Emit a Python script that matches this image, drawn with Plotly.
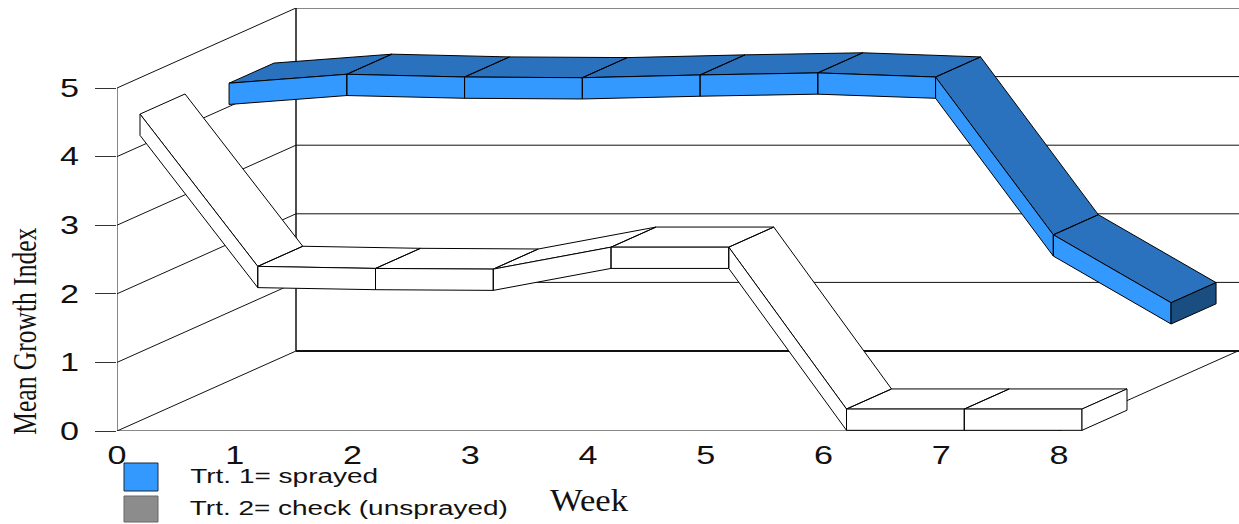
import json
import plotly.graph_objects as go

# Data: mean growth index at the upper edge of each ribbon
weeks = [0, 1, 2, 3, 4, 5, 6, 7, 8]
sprayed = [4.34, 4.47, 4.43, 4.42, 4.46, 4.49, 4.43, 2.13, 1.14]
check = [4.47, 2.25, 2.22, 2.21, 2.53, 2.53, 0.17, 0.17, 0.17]
y_ticks = [0, 1, 2, 3, 4, 5]
series_names = ["Trt. 1= sprayed", "Trt. 2= check (unsprayed)"]

# Oblique projection: how far one full chart depth shifts a point, in axis units
X_UNIT, Y_UNIT = 117.75, 68.6
DEPTH_X = 179 / X_UNIT
DEPTH_Y = 80 / Y_UNIT
RIBBON_DEPTH = 0.2514
RIBBON_THICK = 0.31
X_MAX = (1239 - 117) / X_UNIT
Y_MAX = 423 / Y_UNIT

BLUE_FRONT, BLUE_TOP, BLUE_END = "#3399ff", "#2a72bd", "#1a4d80"


def project(week, value, depth):
    return week + depth * DEPTH_X, value + depth * DEPTH_Y


def polygons(quads):
    xs, ys = [], []
    for quad in quads:
        pts = [project(*p) for p in quad]
        pts.append(pts[0])
        xs += [p[0] for p in pts] + [None]
        ys += [p[1] for p in pts] + [None]
    return xs, ys


def ribbon_faces(values, depth):
    back = depth + RIBBON_DEPTH
    tops, fronts = [], []
    for i in range(len(weeks) - 1):
        w0, w1, v0, v1 = weeks[i], weeks[i + 1], values[i], values[i + 1]
        tops.append([(w0, v0, depth), (w1, v1, depth), (w1, v1, back), (w0, v0, back)])
        fronts.append([
            (w0, v0, depth), (w1, v1, depth),
            (w1, v1 - RIBBON_THICK, depth), (w0, v0 - RIBBON_THICK, depth),
        ])
    w, v = weeks[-1], values[-1]
    end = [[(w, v, depth), (w, v, back), (w, v - RIBBON_THICK, back), (w, v - RIBBON_THICK, depth)]]
    return tops, fronts, end


fig = go.Figure()


def add_line(points, width=1.0, color="#111111"):
    fig.add_trace(go.Scatter(
        x=[p[0] for p in points], y=[p[1] for p in points], mode="lines",
        line=dict(color=color, width=width), hoverinfo="skip",
        showlegend=False, cliponaxis=False,
    ))


def add_faces(quads, fill):
    xs, ys = polygons(quads)
    fig.add_trace(go.Scatter(
        x=xs, y=ys, mode="lines", fill="toself", fillcolor=fill,
        line=dict(color="#000000", width=1), hoverinfo="skip",
        showlegend=False, cliponaxis=False,
    ))


# Chart box: side wall, back wall and floor
for v in y_ticks:
    width = 2 if v == 0 else 1
    add_line([project(0, v, 0), project(0, v, 1)], 1)
    add_line([project(0, v, 1), (X_MAX, v + DEPTH_Y)], width)
add_line([project(0, 0, 0), project(0, 5, 0)], 1)
add_line([project(0, 0, 1), project(0, 5, 1)], 1.5)
add_line([project(0, 0, 0), project(weeks[-1], 0, 0), project(weeks[-1], 0, 1)], 1)

# Ribbons, rear one first
for values, depth, colors in [
    (sprayed, 0.626, (BLUE_TOP, BLUE_FRONT, BLUE_END)),
    (check, 0.1285, ("#ffffff", "#ffffff", "#ffffff")),
]:
    tops, fronts, end = ribbon_faces(values, depth)
    add_faces(tops, colors[0])
    add_faces(fronts, colors[1])
    add_faces(end, colors[2])


def paper_x(px):
    return (px - 117) / 1122


def paper_y(py):
    return (431 - py) / 423


# Legend swatches and captions
swatches = [("#3399ff", "#1a2a40", 463, 491), ("#8c8c8c", "#666666", 496, 522)]
for fill, edge, y0, y1 in swatches:
    fig.add_shape(type="rect", xref="paper", yref="paper",
                  x0=paper_x(124), x1=paper_x(158), y0=paper_y(y0), y1=paper_y(y1),
                  fillcolor=fill, line=dict(color=edge, width=1))
annotations = []
for name, px, py in zip(series_names, [284, 349], [476, 508]):
    annotations.append(dict(
        text=name, xref="paper", yref="paper", x=paper_x(px), y=paper_y(py),
        xanchor="center", yanchor="middle", showarrow=False,
        font=dict(family="Liberation Sans", size=20, color="#111111"),
    ))
annotations.append(dict(
    text="Week", xref="paper", yref="paper", x=paper_x(589), y=paper_y(500),
    xanchor="center", yanchor="middle", showarrow=False,
    font=dict(family="Liberation Serif", size=32, color="#111111"),
))
annotations.append(dict(
    text="Mean Growth Index", xref="paper", yref="paper", x=paper_x(24), y=paper_y(331),
    xanchor="center", yanchor="middle", showarrow=False, textangle=-90,
    font=dict(family="Liberation Serif", size=34, color="#111111"),
))

fig.update_layout(
    width=1239, height=524, autosize=False,
    margin=dict(l=117, r=0, t=8, b=93, pad=0),
    plot_bgcolor="#ffffff", paper_bgcolor="#ffffff",
    showlegend=False, annotations=annotations,
    xaxis=dict(
        range=[0, X_MAX], tickmode="array", tickvals=weeks, ticks="",
        showgrid=False, zeroline=False, showline=False, ticklabelstandoff=7,
        tickfont=dict(family="Liberation Sans", size=25, color="#111111"),
    ),
    yaxis=dict(
        range=[0, Y_MAX], tickmode="array", tickvals=y_ticks, ticks="outside",
        ticklen=21, tickwidth=1, tickcolor="#333333",
        showgrid=False, zeroline=False, showline=False, ticklabelstandoff=11,
        tickfont=dict(family="Liberation Sans", size=25, color="#111111"),
    ),
)

# The typeface is set wide: stretch each label to its run length along the baseline
text_lengths = {
    series_names[0]: 188,
    series_names[1]: 318,
    "Week": 78,
    "Mean Growth Index": 207,
}
stretch_script = """
var lengths = %s;
document.querySelectorAll('.annotation-text').forEach(function (t) {
  var n = lengths[t.textContent];
  if (n) { t.setAttribute('textLength', n); t.setAttribute('lengthAdjust', 'spacingAndGlyphs'); }
});
document.querySelectorAll('.xtick text, .ytick text').forEach(function (t) {
  t.setAttribute('textLength', 19); t.setAttribute('lengthAdjust', 'spacingAndGlyphs');
});
""" % json.dumps(text_lengths)

fig.write_html("out.html", config={"displayModeBar": False}, post_script=stretch_script)
